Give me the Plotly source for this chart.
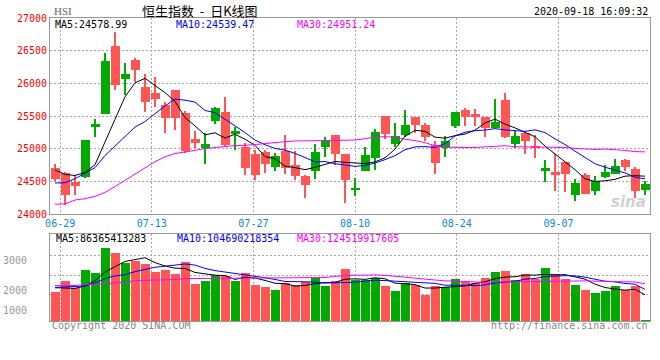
import plotly.graph_objects as go

# ---------------- data ----------------
dates = ["06-26", "06-29", "06-30", "07-02", "07-03", "07-06", "07-07", "07-08", "07-09", "07-10",
         "07-13", "07-14", "07-15", "07-16", "07-17", "07-20", "07-21", "07-22", "07-23", "07-24",
         "07-27", "07-28", "07-29", "07-30", "07-31", "08-03", "08-04", "08-05", "08-06", "08-07",
         "08-10", "08-11", "08-12", "08-13", "08-14", "08-17", "08-18", "08-19", "08-20", "08-21",
         "08-24", "08-25", "08-26", "08-27", "08-28", "08-31", "09-01", "09-02", "09-03", "09-04",
         "09-07", "09-08", "09-09", "09-10", "09-11", "09-14", "09-15", "09-16", "09-17", "09-18"]

open_ = [24703, 24626, 24484, 24560, 25329, 25532, 26571, 26067, 26357, 25940,
         25848, 25670, 25899, 25553, 25146, 25008, 25426, 25568, 25227, 25023,
         24916, 24942, 24713, 24972, 24754, 24586, 24662, 25023, 25202, 24916,
         24372, 24662, 24855, 25502, 25074, 25212, 25482, 25364, 25059, 25008,
         25349, 25594, 25527, 25482, 25324, 25746, 25074, 25247, 25044, 24662,
         24636, 24794, 24295, 24601, 24356, 24565, 24616, 24830, 24687, 24372]
high = [24769, 24650, 24601, 25140, 25451, 26459, 26780, 26306, 26395, 26138,
        26103, 25721, 25905, 25578, 25263, 25237, 25635, 25787, 25339, 25084,
        24983, 24983, 24932, 25212, 24957, 24600, 25069, 25176, 25210, 24925,
        24550, 25033, 25298, 25505, 25390, 25594, 25490, 25400, 25110, 25196,
        25565, 25629, 25609, 25490, 25757, 25848, 25263, 25278, 25212, 24830,
        24916, 24800, 24535, 24626, 24575, 24754, 24840, 24845, 24718, 24509]
low = [24509, 24143, 24295, 24550, 25186, 25532, 25899, 25823, 26022, 25568,
       25645, 25237, 25288, 24932, 25008, 24769, 25375, 25040, 24983, 24601,
       24524, 24626, 24662, 24616, 24514, 24244, 24535, 24866, 24754, 24168,
       24270, 24655, 24677, 25151, 25023, 25176, 25247, 25110, 24616, 24871,
       25314, 25349, 25349, 25186, 25320, 25165, 25008, 24922, 24855, 24484,
       24346, 24336, 24204, 24300, 24295, 24550, 24610, 24662, 24244, 24295]
close = [24540, 24295, 24423, 25135, 25375, 26342, 25975, 26138, 26204, 25721,
         25762, 25466, 25466, 24967, 25084, 25069, 25629, 25059, 25263, 24703,
         24601, 24769, 24891, 24703, 24586, 24448, 24942, 25120, 24922, 24524,
         24387, 24906, 25252, 25227, 25196, 25364, 25364, 25176, 24779, 25120,
         25558, 25482, 25482, 25324, 25415, 25171, 25196, 25120, 25008, 24703,
         24591, 24616, 24473, 24311, 24499, 24641, 24728, 24718, 24346, 24458]

ma5 = [24675, 24605, 24590, 24635, 24754, 25114, 25450, 25793, 26007, 26076,
       25960, 25858, 25724, 25476, 25349, 25210, 25243, 25162, 25221, 25145,
       25051, 24879, 24845, 24733, 24710, 24679, 24714, 24760, 24804, 24791,
       24779, 24772, 24798, 24859, 24994, 25189, 25281, 25265, 25176, 25161,
       25199, 25223, 25284, 25393, 25452, 25375, 25318, 25245, 25182, 25040,
       24924, 24808, 24678, 24539, 24498, 24508, 24530, 24579, 24586, 24579]
ma10 = [24475, 24478, 24540, 24620, 24710, 24895, 25040, 25200, 25330, 25415,
        25537, 25654, 25759, 25742, 25713, 25585, 25551, 25443, 25349, 25247,
        25131, 25061, 25004, 24977, 24928, 24865, 24797, 24803, 24769, 24751,
        24729, 24743, 24779, 24832, 24893, 24984, 25027, 25032, 25018, 25078,
        25194, 25252, 25275, 25285, 25307, 25287, 25271, 25265, 25288, 25246,
        25150, 25063, 24962, 24861, 24769, 24716, 24669, 24629, 24563, 24539]
ma30 = [24150, 24153, 24214, 24234, 24270, 24330, 24420, 24515, 24610, 24710,
        24800, 24875, 24925, 24950, 24978, 25000, 25018, 25035, 25047, 25051,
        25060, 25077, 25093, 25108, 25118, 25120, 25122, 25125, 25135, 25137,
        25132, 25152, 25180, 25183, 25177, 25144, 25124, 25092, 25044, 25024,
        25017, 25018, 25018, 25030, 25041, 25045, 25030, 25032, 25024, 25024,
        25023, 25018, 25004, 24991, 24988, 24994, 24987, 24974, 24955, 24951]

volume = [993, 1370, 1144, 1747, 1634, 2500, 2329, 1986, 2068, 1952,
          1668, 1747, 1610, 2021, 1267, 1370, 1575, 1541, 1370, 1644,
          1233, 1164, 1051, 1315, 1223, 1336, 1486, 1199, 1360, 1781,
          1394, 1394, 1473, 1188, 1027, 1315, 1223, 890, 1188, 1164,
          1438, 1336, 1315, 1473, 1678, 1712, 1404, 1610, 1452, 1815,
          1610, 1452, 1233, 1062, 959, 1027, 1188, 1051, 1212, 20]
vol_ma5 = [1140, 1130, 1120, 1200, 1378, 1679, 1871, 2039, 2103, 2167,
           2001, 1884, 1809, 1800, 1663, 1603, 1569, 1555, 1425, 1500,
           1473, 1390, 1292, 1281, 1197, 1218, 1282, 1312, 1321, 1432,
           1444, 1426, 1480, 1446, 1295, 1279, 1245, 1129, 1129, 1156,
           1181, 1203, 1288, 1345, 1448, 1503, 1516, 1575, 1571, 1599,
           1578, 1588, 1512, 1434, 1263, 1147, 1094, 1057, 1087, 900]
vol_ma10 = [1150, 1160, 1165, 1200, 1300, 1450, 1545, 1590, 1690, 1773,
            1840, 1878, 1924, 1952, 1915, 1802, 1727, 1682, 1613, 1582,
            1538, 1480, 1424, 1353, 1349, 1346, 1336, 1302, 1301, 1315,
            1331, 1354, 1396, 1384, 1364, 1362, 1336, 1305, 1288, 1226,
            1230, 1224, 1209, 1237, 1302, 1342, 1360, 1432, 1458, 1524,
            1541, 1552, 1544, 1503, 1431, 1363, 1341, 1285, 1261, 1082]
vol_ma30 = [1212, 1212, 1215, 1250, 1260, 1270, 1315, 1320, 1384, 1390,
            1395, 1418, 1420, 1452, 1455, 1460, 1462, 1462, 1465, 1462,
            1460, 1462, 1465, 1470, 1475, 1486, 1486, 1490, 1531, 1556,
            1569, 1570, 1581, 1562, 1542, 1503, 1466, 1429, 1400, 1374,
            1366, 1352, 1342, 1324, 1338, 1349, 1343, 1345, 1348, 1354,
            1367, 1377, 1383, 1375, 1366, 1356, 1346, 1341, 1336, 1277]

x_tick_labels = ["06-29", "07-13", "07-27", "08-10", "08-24", "09-07"]
price_ticks = [24000, 24500, 25000, 25500, 26000, 26500, 27000]
vol_tick_labels = ["3000", "2000", "1000"]

ma_price_text = ["MA5:24578.99", "MA10:24539.47", "MA30:24951.24"]
ma_vol_text = ["MA5:86365413283", "MA10:104690218354", "MA30:124519917605"]
title_text = "恒生指数\u00a0\u00a0-\u00a0\u00a0日K线图"
symbol_text = "HSI"
time_text = "2020-09-18 16:09:32"

# ---------------- styling / layout helpers ----------------
W, H = 660, 360
ML, MR, MT, MB = 50, 10, 18, 39
PW, PH = W - ML - MR, H - MT - MB


def px(x):
    return (x - ML) / PW


def py(y):
    return (H - MB - y) / PH


RED = "#ff5555"
GREEN = "#00aa00"
BLUE = "#0000ff"
MAG = "#ff00ff"
GRID = "#aaaaaa"
BORDER = "#999999"
MONO = "DejaVu Sans Mono"

n = len(dates)
idx = list(range(n))
cols = [GREEN if c >= o else RED for o, c in zip(open_, close)]
body_base = [min(o, c) for o, c in zip(open_, close)]
body_h = [max(abs(c - o), 12) for o, c in zip(open_, close)]
wick_h = [h - l for h, l in zip(high, low)]

# vertical grid positions (Sina spreads date marks over n-1 intervals)
tick_idx = [dates.index(d) for d in x_tick_labels]
grid_x = [i * n / (n - 1) - 0.5 for i in tick_idx]

fig = go.Figure()
fig.add_trace(go.Bar(x=idx, y=wick_h, base=low, width=0.1,
                     marker=dict(color=cols, line=dict(width=0)), xaxis="x", yaxis="y"))
fig.add_trace(go.Bar(x=idx, y=body_h, base=body_base, width=0.9,
                     marker=dict(color=cols, line=dict(width=0)), xaxis="x", yaxis="y"))
for vals, c in ((ma5, "#000000"), (ma10, BLUE), (ma30, MAG)):
    fig.add_trace(go.Scatter(x=idx, y=vals, mode="lines", line=dict(color=c, width=1),
                             xaxis="x", yaxis="y"))

fig.add_trace(go.Bar(x=idx, y=volume, width=0.9,
                     marker=dict(color=cols, line=dict(width=0)), xaxis="x2", yaxis="y2"))
for vals, c in ((vol_ma5, "#000000"), (vol_ma10, BLUE), (vol_ma30, MAG)):
    fig.add_trace(go.Scatter(x=idx, y=vals, mode="lines", line=dict(color=c, width=1),
                             xaxis="x2", yaxis="y2"))

main_dom = [py(214), 1]
vol_dom = [0, py(234)]
VMAX = 2980
vol_grid = [VMAX * f for f in (0.75, 0.528, 0.299)]

axis_common = dict(showline=True, mirror=True, linecolor=BORDER, linewidth=1,
                   zeroline=False, ticks="", showgrid=True, gridcolor=GRID,
                   griddash="2px,2px", gridwidth=1, fixedrange=True, automargin=False)

fig.update_layout(
    width=W, height=H,
    margin=dict(l=ML, r=MR, t=MT, b=MB, autoexpand=False),
    paper_bgcolor="white", plot_bgcolor="white",
    showlegend=False, barmode="overlay", bargap=0,
    hovermode=False,
    xaxis=dict(domain=[0, 1], range=[-0.5, n - 0.5], anchor="y",
               tickmode="array", tickvals=grid_x, ticktext=x_tick_labels,
               tickfont=dict(family=MONO, size=10, color="#0a88d8"), **axis_common),
    yaxis=dict(domain=main_dom, range=[24000, 27000], anchor="x",
               tickmode="array", tickvals=price_ticks, ticktext=[str(v) for v in price_ticks],
               tickfont=dict(family=MONO, size=10, color="#ff0000"), **axis_common),
    xaxis2=dict(domain=[0, 1], range=[-0.5, n - 0.5], anchor="y2",
                tickmode="array", tickvals=grid_x, showticklabels=False, **axis_common),
    yaxis2=dict(domain=vol_dom, range=[0, VMAX], anchor="x2",
                tickmode="array", tickvals=vol_grid, showticklabels=False, **axis_common),
)

ann = []


def text(x, y, s, color="#000000", size=10, family=MONO, xanchor="left"):
    ann.append(dict(x=px(x), y=py(y), xref="paper", yref="paper", text=s, showarrow=False,
                    xanchor=xanchor, yanchor="middle",
                    font=dict(family=family, size=size, color=color)))


text(52, 11.5, symbol_text, "#666666", 11, "Liberation Serif")
text(200, 10.5, title_text, "#000000", 13, "Noto Sans CJK SC", "center")
text(650, 11.5, time_text, "#000000", 10, MONO, "right")
for s, x, c in zip(ma_price_text, (53, 174, 295), ("#000000", BLUE, MAG)):
    text(x, 24, s, c)
for s, x, c in zip(ma_vol_text, (54, 175, 295), ("#000000", BLUE, MAG)):
    text(x, 238.7, s, c)
for s, y in zip(vol_tick_labels, (260.7, 290.7, 310.7)):
    text(29, y, s, "#999999", 10, MONO, "right")
text(50, 325, "Copyright 2020 SINA.COM", "#888888")
text(650, 325, "http://finance.sina.com.cn", "#888888", 10, MONO, "right")
ann.append(dict(x=px(648), y=py(202), xref="paper", yref="paper", text="<b><i>sina</i></b>",
                showarrow=False, xanchor="right", yanchor="middle",
                font=dict(family="DejaVu Sans", size=15, color="#d0d0d0")))
fig.update_layout(annotations=ann)

fig.write_html("out.html", config={"displayModeBar": False},
               post_script="document.body.style.margin='0';")
